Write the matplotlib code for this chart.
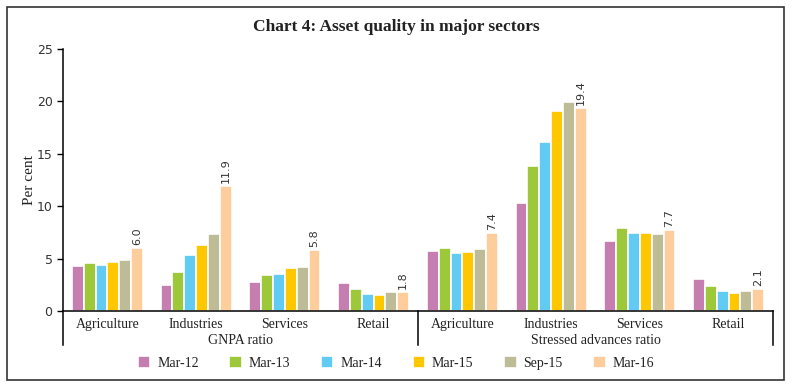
#!/usr/bin/env python3
"""Chart 4: Asset quality in major sectors."""

import numpy as np
import matplotlib
matplotlib.use("Agg")
import matplotlib.pyplot as plt
from matplotlib.patches import Rectangle
from matplotlib.lines import Line2D

# data
sectors = ["Agriculture", "Industries", "Services", "Retail"]
groups = ["GNPA ratio", "Stressed advances ratio"]
periods = ["Mar-12", "Mar-13", "Mar-14", "Mar-15", "Sep-15", "Mar-16"]

# GNPA ratio then Stressed advances ratio, per sector
mar12 = [4.3, 2.5, 2.8, 2.7, 5.7, 10.3, 6.7, 3.1]
mar13 = [4.6, 3.7, 3.4, 2.1, 6.0, 13.8, 7.9, 2.4]
mar14 = [4.4, 5.3, 3.5, 1.6, 5.5, 16.1, 7.4, 1.9]
mar15 = [4.7, 6.3, 4.1, 1.5, 5.6, 19.1, 7.4, 1.7]
sep15 = [4.9, 7.3, 4.2, 1.8, 5.9, 19.9, 7.3, 1.9]
mar16 = [6.0, 11.9, 5.8, 1.8, 7.4, 19.4, 7.7, 2.1]

series = [mar12, mar13, mar14, mar15, sep15, mar16]
colors = ["#C67DAF", "#9DC83A", "#62CBF3", "#FFC700", "#BDBC96", "#FDCD9B"]

SERIF = "Liberation Serif"
SANS = "DejaVu Sans"
TXT = "#222222"

fig = plt.figure(figsize=(7.92, 3.92), dpi=100)
ax = fig.add_axes([63 / 792, 1 - 311 / 392, 710 / 792, 262 / 392])

labels = sectors * len(groups)
x = np.arange(len(labels))
n = len(series)
width = 0.8 / n
for i, (vals, col) in enumerate(zip(series, colors)):
    pos = x - 0.4 + width * (i + 0.5)
    ax.bar(pos, vals, width, color=col, edgecolor="white", linewidth=1.2,
           label=periods[i])
    if i == n - 1:
        for px, v in zip(pos, vals):
            ax.text(px, v + 0.3, f"{v:.1f}", rotation=90, ha="center",
                    va="bottom", fontsize=8, family=SANS, color="#333333")

ax.set_xlim(-0.5, len(labels) - 0.5)
ax.set_ylim(0, 25)
ax.set_yticks([0, 5, 10, 15, 20, 25])
ax.set_xticks(x)
ax.set_xticklabels(labels, family=SERIF, fontsize=10, color=TXT)
ax.tick_params(axis="x", length=0, pad=5)
ax.tick_params(axis="y", length=4, width=1, labelsize=9, labelcolor="#333333")
for t in ax.get_yticklabels():
    t.set_family(SANS)
ax.set_ylabel("Per cent", family=SERIF, fontsize=11, color=TXT)
ax.yaxis.set_label_coords(-(63 - 36) / 710, 0.5)

for s in ["top", "right"]:
    ax.spines[s].set_visible(False)
ax.spines["left"].set_linewidth(1.1)
ax.spines["bottom"].set_linewidth(1.1)

# separators under the x axis
drop = -(345 - 311) / 262
for xs in [0.0, 0.5, 1.0]:
    ax.add_line(Line2D([xs, xs], [0, drop], transform=ax.transAxes,
                       color="black", linewidth=1.1, clip_on=False))
for j, g in enumerate(groups):
    ax.text(0.25 + 0.5 * j, -(341 - 311) / 262, g, transform=ax.transAxes,
            ha="center", va="center", family=SERIF, fontsize=10, color=TXT)

fig.text(396 / 792, 1 - 27 / 392, "Chart 4: Asset quality in major sectors",
         ha="center", va="center", family=SERIF, fontsize=12.5,
         fontweight="bold", color=TXT)

leg = fig.legend(loc="center", bbox_to_anchor=(396 / 792, 1 - 363 / 392),
                 ncol=n, frameon=False, prop={"family": SERIF, "size": 10},
                 handlelength=0.9, handleheight=0.9, columnspacing=2.2,
                 handletextpad=0.5, labelcolor=TXT)

fig.patches.append(Rectangle((7 / 792, 12 / 392), 777 / 792, 373 / 392,
                             transform=fig.transFigure, fill=False,
                             edgecolor="#333333", linewidth=1.2))

fig.savefig("out.png", dpi=100)
